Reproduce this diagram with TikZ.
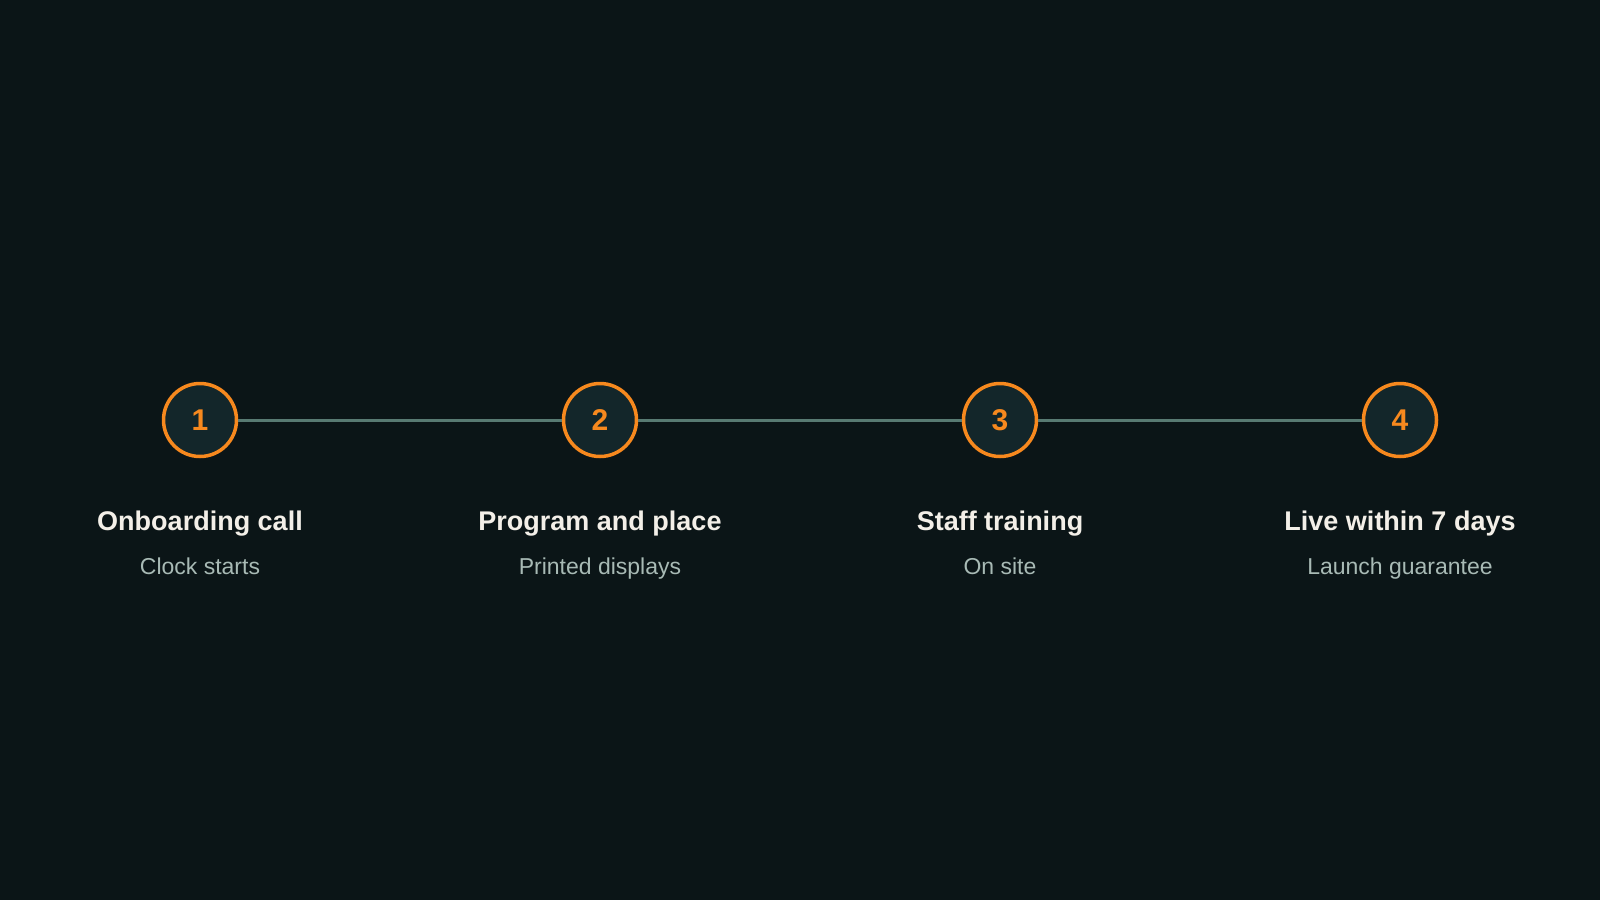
\documentclass[tikz,border=0pt]{standalone}
\usepackage{fontspec}
\setmainfont{Liberation Sans}
\definecolor{bg}{HTML}{0B1517}
\definecolor{disc}{HTML}{13262A}
\definecolor{accent}{HTML}{F7891E}
\definecolor{link}{HTML}{587A72}
\definecolor{titletext}{HTML}{F3EFE8}
\definecolor{subtext}{HTML}{A8BAB5}
\begin{document}
\begin{tikzpicture}[x=1pt, y=-1pt,
    stepnum/.style={circle, draw=accent, line width=3.5pt, fill=disc, minimum size=73pt, inner sep=0pt,
        text=accent, font=\fontsize{30}{32}\selectfont\bfseries},
    steptitle/.style={anchor=base, text=titletext, font=\fontsize{27}{29}\selectfont\bfseries},
    stepsub/.style={anchor=base, text=subtext, font=\fontsize{23}{25}\selectfont}]
    \fill[bg] (0,0) rectangle (1600,900);
    \node[stepnum] (s1) at (200,420) {1};
    \node[stepnum] (s2) at (600,420) {2};
    \node[stepnum] (s3) at (1000,420) {3};
    \node[stepnum] (s4) at (1400,420) {4};
    \draw [link, line width=3pt] (s1) -- (s2);
    \draw [link, line width=3pt] (s2) -- (s3);
    \draw [link, line width=3pt] (s3) -- (s4);
    \node[steptitle] (t1) at (200,530) {Onboarding call};
    \node[steptitle] (t2) at (600,530) {Program and place};
    \node[steptitle] (t3) at (1000,530) {Staff training};
    \node[steptitle] (t4) at (1400,530) {Live within 7 days};
    \node[stepsub] (d1) at (200,574) {Clock starts};
    \node[stepsub] (d2) at (600,574) {Printed displays};
    \node[stepsub] (d3) at (1000,574) {On site};
    \node[stepsub] (d4) at (1400,574) {Launch guarantee};
\end{tikzpicture}
\end{document}
